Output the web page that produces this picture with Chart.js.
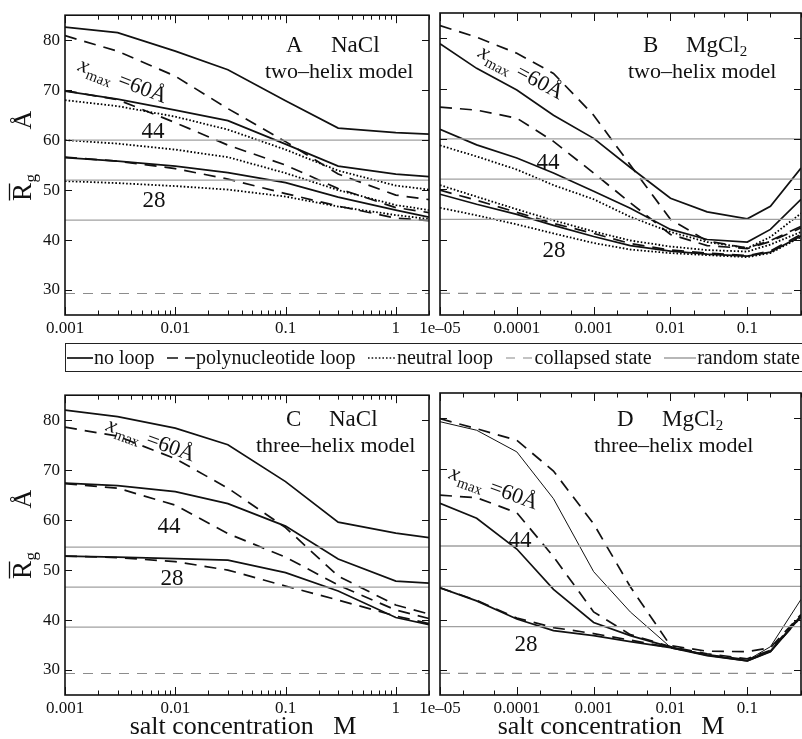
<!DOCTYPE html>
<html>
<head>
<meta charset="utf-8">
<script src="https://cdn.jsdelivr.net/npm/chart.js@4.4.0/dist/chart.umd.min.js"></script>
<style>
  html, body { margin: 0; padding: 0; background: #fff; }
  body { width: 802px; height: 739px; position: relative; overflow: hidden;
         font-family: "Liberation Serif", "DejaVu Serif", serif; color: #111; }
  canvas { position: absolute; }
  #legend { position: absolute; left: 65px; top: 343px; width: 760px; height: 27px;
            border: 1.5px solid #222; font-size: 20px; white-space: nowrap; }
  #legend .row { position: absolute; left: 1px; top: 0; width: 733px; height: 27px;
                 display: flex; align-items: center; justify-content: space-between; }
  #legend .item { display: flex; align-items: center; }
  #legend svg { margin-right: 1px; }
</style>
</head>
<body>
<canvas id="panelA" width="432" height="345" style="left:0;top:0"></canvas>
<canvas id="panelB" width="402" height="345" style="left:400px;top:0"></canvas>
<canvas id="panelC" width="432" height="359" style="left:0;top:380px"></canvas>
<canvas id="panelD" width="402" height="359" style="left:400px;top:380px"></canvas>

<div id="legend"><div class="row">
  <span class="item"><svg width="26" height="10"><line x1="0" y1="5" x2="26" y2="5" stroke="#111" stroke-width="1.7"/></svg>no loop</span>
  <span class="item"><svg width="28" height="10"><line x1="0" y1="5" x2="28" y2="5" stroke="#111" stroke-width="1.7" stroke-dasharray="11 7"/></svg>polynucleotide loop</span>
  <span class="item"><svg width="28" height="10"><line x1="0" y1="5" x2="28" y2="5" stroke="#111" stroke-width="1.7" stroke-dasharray="1.6 2"/></svg>neutral loop</span>
  <span class="item"><svg width="28" height="10"><line x1="0" y1="5" x2="28" y2="5" stroke="#888" stroke-width="1.1" stroke-dasharray="9 8"/></svg>collapsed state</span>
  <span class="item"><svg width="32" height="10"><line x1="0" y1="5" x2="32" y2="5" stroke="#999" stroke-width="1.4"/></svg>random state</span>
</div></div>

<script>
// salt concentrations (M) at which Rg was computed
const saltNaCl = [0.001, 0.003, 0.01, 0.03, 0.1, 0.3, 1, 2];
const saltMgCl2 = [1e-5, 3e-5, 1e-4, 3e-4, 1e-3, 3e-3, 0.01, 0.03, 0.1, 0.2, 0.5];

// A: NaCl, two-helix model
const aNoLoop60 = [82.6, 81.5, 77.8, 74.1, 67.9, 62.4, 61.5, 61.2];
const aPolyLoop60 = [80.9, 77.8, 72.8, 66.3, 59.7, 53.2, 49.0, 48.1];
const aNeutral60 = [68.0, 66.8, 64.7, 62.1, 58.1, 53.9, 50.9, 50.1];
const aNoLoop44 = [69.8, 68.2, 66.0, 63.9, 59.2, 54.8, 53.2, 52.7];
const aPolyLoop44 = [69.9, 68.1, 63.5, 59.0, 55.0, 50.3, 46.5, 45.5];
const aNeutral44 = [60.0, 59.3, 58.1, 56.6, 53.4, 50.0, 47.0, 46.0];
const aNoLoop28 = [56.5, 55.8, 54.8, 53.5, 51.5, 48.6, 46.0, 44.6];
const aPolyLoop28 = [56.6, 55.8, 54.3, 52.2, 49.3, 46.8, 44.4, 43.9];
const aNeutral28 = [51.8, 51.4, 50.8, 50.1, 48.7, 46.7, 45.0, 44.2];

// B: MgCl2, two-helix model
const bNoLoop60 = [78.9, 74.0, 69.7, 64.7, 60.1, 54.3, 48.2, 45.5, 44.1, 46.6, 54.2];
const bPolyLoop60 = [82.5, 80.2, 77.0, 73.0, 64.7, 54.8, 44.0, 39.7, 38.3, 39.8, 42.6];
const bNeutral60 = [58.7, 56.5, 53.9, 50.8, 48.0, 44.5, 41.5, 39.5, 38.3, 40.5, 45.2];
const bNoLoop44 = [61.9, 58.8, 56.2, 53.2, 49.6, 46.2, 42.0, 40.0, 39.5, 42.0, 48.0];
const bPolyLoop44 = [66.3, 65.7, 64.1, 59.5, 53.2, 47.3, 41.0, 38.8, 38.2, 39.6, 42.3];
const bNeutral44 = [50.8, 48.5, 46.0, 43.8, 41.6, 39.8, 38.6, 37.9, 37.6, 39.0, 41.5];
const bNoLoop28 = [49.0, 47.0, 45.0, 42.8, 40.6, 38.8, 37.7, 37.1, 36.7, 37.5, 40.7];
const bPolyLoop28 = [49.8, 47.8, 45.4, 43.2, 41.2, 39.2, 37.9, 37.3, 36.8, 37.7, 41.0];
const bNeutral28 = [46.3, 44.8, 43.0, 41.2, 39.3, 38.0, 37.3, 36.9, 36.5, 37.3, 40.5];

// C: NaCl, three-helix model
const cNoLoop60 = [82.0, 80.7, 78.4, 75.1, 67.7, 59.6, 57.4, 56.5];
const cPolyLoop60 = [78.6, 76.8, 72.3, 66.4, 58.5, 48.8, 43.0, 41.2];
const cNoLoop44 = [67.4, 66.9, 65.7, 63.3, 58.8, 52.2, 47.8, 47.4];
const cPolyLoop44 = [67.3, 66.4, 63.0, 57.3, 52.6, 47.0, 42.0, 40.3];
const cNoLoop28 = [52.8, 52.6, 52.3, 52.0, 49.5, 45.8, 40.5, 39.1];
const cPolyLoop28 = [52.8, 52.5, 51.7, 50.0, 46.8, 44.0, 40.8, 39.3];

// D: MgCl2, three-helix model
const dNoLoop60 = [79.3, 77.6, 73.3, 64.0, 49.5, 41.5, 34.5, 33.0, 31.9, 34.6, 44.0];
const dPolyLoop60 = [79.9, 77.9, 75.6, 69.5, 59.0, 46.5, 34.8, 33.7, 33.6, 34.4, 41.0];
const dNoLoop44 = [63.1, 60.1, 54.0, 46.0, 39.4, 36.8, 34.5, 32.9, 31.8, 33.7, 40.8];
const dPolyLoop44 = [64.7, 64.2, 61.2, 52.5, 41.5, 37.0, 34.6, 33.2, 32.2, 33.9, 40.9];
const dNoLoop28 = [46.3, 43.7, 40.1, 37.8, 36.8, 35.6, 34.4, 32.8, 31.8, 33.6, 40.6];
const dPolyLoop28 = [46.3, 43.8, 40.3, 38.4, 37.2, 35.9, 34.4, 33.0, 32.0, 33.7, 40.5];

// reference levels
const randomTwoHelix = [60, 52, 44];
const randomThreeHelix = [54.6, 46.6, 38.6];
const collapsedRg = 29.3;

// tick labels
const rgTicks = [30, 40, 50, 60, 70, 80];
const naclTicks = [0.001, 0.01, 0.1, 1];
const naclTickLabels = ['0.001', '0.01', '0.1', '1'];
const mgTicks = [1e-5, 1e-4, 1e-3, 1e-2, 0.1];
const mgTickLabels = ['1e\u201305', '0.0001', '0.001', '0.01', '0.1'];

const FONT = '"Liberation Serif", "DejaVu Serif", serif';

const solid = { borderColor: '#111', borderWidth: 1.7, borderDash: [] };
const thin = { borderColor: '#111', borderWidth: 1.0, borderDash: [] };
const dashed = { borderColor: '#111', borderWidth: 1.7, borderDash: [12, 8] };
const dotted = { borderColor: '#000', borderWidth: 1.8, borderDash: [1.6, 2.0] };

function pts(xs, ys) {
  return xs.map((x, i) => ({ x: x, y: ys[i] }));
}

function refLines(xmin, xmax, levels) {
  const sets = levels.map(v => ({
    data: [{ x: xmin, y: v }, { x: xmax, y: v }],
    borderColor: '#a0a0a0', borderWidth: 1.3
  }));
  sets.push({
    data: [{ x: xmin, y: collapsedRg }, { x: xmax, y: collapsedRg }],
    borderColor: '#8c8c8c', borderWidth: 1.1, borderDash: [10, 8]
  });
  return sets;
}

// draws a run of text pieces with their own fonts and baseline shifts
function drawRuns(ctx, runs, x, y) {
  let cx = x;
  runs.forEach(r => {
    ctx.font = r.font;
    ctx.fillText(r.t, cx, y + (r.dy || 0));
    cx += ctx.measureText(r.t).width + (r.gap || 0);
  });
}

// frame, inward ticks on all sides, and the text inside each panel
const panelFrame = {
  id: 'panelFrame',
  afterDraw(chart, args, o) {
    const { ctx, chartArea: a, scales: { x, y } } = chart;
    const [ox, oy] = o.origin;
    ctx.save();
    ctx.strokeStyle = '#111';
    ctx.lineWidth = 1;
    ctx.beginPath();
    const xmin = x.min, xmax = x.max;
    const d0 = Math.floor(Math.log10(xmin)), d1 = Math.ceil(Math.log10(xmax));
    for (let d = d0; d <= d1; d++) {
      for (let m = 1; m < 10; m++) {
        const v = m * Math.pow(10, d);
        if (v < xmin * 0.999 || v > xmax * 1.001) continue;
        let len;
        if (m === 1) len = 8;
        else if (o.minor.includes(m)) len = 4.5;
        else continue;
        const px = Math.round(x.getPixelForValue(v)) + 0.5;
        ctx.moveTo(px, a.bottom); ctx.lineTo(px, a.bottom - len);
        ctx.moveTo(px, a.top); ctx.lineTo(px, a.top + len);
      }
    }
    rgTicks.forEach(v => {
      const py = Math.round(y.getPixelForValue(v)) + 0.5;
      ctx.moveTo(a.left, py); ctx.lineTo(a.left + 7, py);
      ctx.moveTo(a.right, py); ctx.lineTo(a.right - 7, py);
    });
    ctx.stroke();
    ctx.lineWidth = 1.6;
    ctx.strokeRect(a.left, a.top, a.right - a.left, a.bottom - a.top);

    ctx.fillStyle = '#111';
    ctx.textBaseline = 'alphabetic';
    ctx.textAlign = 'left';
    o.texts.forEach(t => {
      if (t.center) {
        const w = t.runs.reduce((s, r) => { ctx.font = r.font; return s + ctx.measureText(r.t).width; }, 0);
        drawRuns(ctx, t.runs, t.x - ox - w / 2, t.y - oy);
      } else if (t.angle) {
        ctx.save();
        ctx.translate(t.x - ox, t.y - oy);
        ctx.rotate(t.angle * Math.PI / 180);
        drawRuns(ctx, t.runs, 0, 0);
        ctx.restore();
      } else {
        drawRuns(ctx, t.runs, t.x - ox, t.y - oy);
      }
    });

    // vertical axis title: R-bar with subscript g, then the unit
    if (o.yTitle) {
      const yt = o.yTitle;
      ctx.save();
      ctx.translate(yt.x - ox, yt.y - oy);
      ctx.rotate(-Math.PI / 2);
      ctx.font = '27px ' + FONT;
      const rw = ctx.measureText('R').width;
      ctx.fillText('R', 0, 0);
      ctx.lineWidth = 1.3;
      ctx.beginPath();
      ctx.moveTo(0.5, -21.5); ctx.lineTo(rw - 0.5, -21.5);
      ctx.stroke();
      ctx.font = '17px ' + FONT;
      ctx.fillText('g', rw + 0.5, 5);
      ctx.font = '26px ' + FONT;
      const aw = ctx.measureText('\u00C5').width;
      ctx.fillText('\u00C5', yt.unitCenter - aw / 2, 0);
      ctx.restore();
    }
    ctx.restore();
  }
};

const f = (size, style) => (style ? style + ' ' : '') + size + 'px ' + FONT;

function xmaxLabel(x, y, angle) {
  return { x: x, y: y, angle: angle, runs: [
    { t: 'x', font: f(22, 'italic'), gap: 0.5 },
    { t: 'max', font: f(15), dy: 5, gap: 1 },
    { t: ' =60\u00C5', font: f(22) }
  ] };
}

function makePanel(id, cfg) {
  const datasets = refLines(cfg.xmin, cfg.xmax, cfg.random).concat(
    cfg.series.map(s => Object.assign({ data: pts(cfg.xs, s.values) }, s.style))
  );
  datasets.forEach(d => { d.pointRadius = 0; d.fill = false; d.tension = 0; });

  return new Chart(document.getElementById(id), {
    type: 'line',
    data: { datasets: datasets },
    options: {
      responsive: false,
      animation: false,
      devicePixelRatio: 1,
      layout: { padding: { left: 0, top: 13, right: cfg.padRight, bottom: 0 } },
      plugins: {
        legend: { display: false },
        tooltip: { enabled: false },
        panelFrame: cfg.frame
      },
      scales: {
        x: {
          type: 'logarithmic',
          min: cfg.xmin,
          max: cfg.xmax,
          grid: { display: false, drawTicks: false },
          border: { display: false },
          afterBuildTicks: s => { s.ticks = cfg.ticks.map(v => ({ value: v })); },
          afterFit: s => { s.height = cfg.bottomSpace; },
          ticks: {
            autoSkip: false, maxRotation: 0, padding: 3, color: '#111',
            font: { family: FONT, size: 17 },
            callback: (v, i) => cfg.tickLabels[i]
          }
        },
        y: {
          min: 25,
          max: 85,
          grid: { display: false, drawTicks: false },
          border: { display: false },
          afterBuildTicks: s => { s.ticks = rgTicks.map(v => ({ value: v })); },
          afterFit: s => { s.width = cfg.leftSpace; },
          ticks: {
            display: cfg.yLabels, padding: 5, color: '#111',
            font: { family: FONT, size: 17 }
          }
        }
      }
    },
    plugins: [panelFrame]
  });
}

// A
makePanel('panelA', {
  xs: saltNaCl, xmin: 0.001, xmax: 2, ticks: naclTicks, tickLabels: naclTickLabels,
  random: randomTwoHelix, yLabels: true, leftSpace: 65, padRight: 3, bottomSpace: 30,
  series: [
    { values: aNoLoop60, style: solid }, { values: aPolyLoop60, style: dashed }, { values: aNeutral60, style: dotted },
    { values: aNoLoop44, style: solid }, { values: aPolyLoop44, style: dashed }, { values: aNeutral44, style: dotted },
    { values: aNoLoop28, style: solid }, { values: aPolyLoop28, style: dashed }, { values: aNeutral28, style: dotted }
  ],
  frame: {
    origin: [0, 0], minor: [2, 3, 4, 5, 6, 7, 8, 9],
    yTitle: { x: 31, y: 201, unitCenter: 81 },
    texts: [
      { x: 286, y: 52, runs: [{ t: 'A', font: f(23) }] },
      { x: 331, y: 52, runs: [{ t: 'NaCl', font: f(23) }] },
      { x: 265, y: 78, runs: [{ t: 'two\u2013helix model', font: f(22) }] },
      xmaxLabel(77, 70, 21),
      { center: true, x: 153, y: 138, runs: [{ t: '44', font: f(23) }] },
      { center: true, x: 154, y: 207, runs: [{ t: '28', font: f(23) }] }
    ]
  }
});

// B
makePanel('panelB', {
  xs: saltMgCl2, xmin: 1e-5, xmax: 0.5, ticks: mgTicks, tickLabels: mgTickLabels,
  random: randomTwoHelix, yLabels: false, leftSpace: 40, padRight: 1, bottomSpace: 30,
  series: [
    { values: bNoLoop60, style: solid }, { values: bPolyLoop60, style: dashed }, { values: bNeutral60, style: dotted },
    { values: bNoLoop44, style: solid }, { values: bPolyLoop44, style: dashed }, { values: bNeutral44, style: dotted },
    { values: bNoLoop28, style: solid }, { values: bPolyLoop28, style: dashed }, { values: bNeutral28, style: dotted }
  ],
  frame: {
    origin: [400, 0], minor: [2, 5],
    texts: [
      { x: 643, y: 52, runs: [{ t: 'B', font: f(23) }] },
      { x: 686, y: 52, runs: [{ t: 'MgCl', font: f(23) }, { t: '2', font: f(15), dy: 4 }] },
      { x: 628, y: 78, runs: [{ t: 'two\u2013helix model', font: f(22) }] },
      xmaxLabel(477, 56, 28),
      { center: true, x: 548, y: 169, runs: [{ t: '44', font: f(23) }] },
      { center: true, x: 554, y: 257, runs: [{ t: '28', font: f(23) }] }
    ]
  }
});

// C
makePanel('panelC', {
  xs: saltNaCl, xmin: 0.001, xmax: 2, ticks: naclTicks, tickLabels: naclTickLabels,
  random: randomThreeHelix, yLabels: true, leftSpace: 65, padRight: 3, bottomSpace: 44,
  series: [
    { values: cNoLoop60, style: solid }, { values: cPolyLoop60, style: dashed },
    { values: cNoLoop44, style: solid }, { values: cPolyLoop44, style: dashed },
    { values: cNoLoop28, style: solid }, { values: cPolyLoop28, style: dashed }
  ],
  frame: {
    origin: [0, 380], minor: [2, 3, 4, 5, 6, 7, 8, 9],
    yTitle: { x: 31, y: 579, unitCenter: 80 },
    texts: [
      { x: 286, y: 426, runs: [{ t: 'C', font: f(23) }] },
      { x: 329, y: 426, runs: [{ t: 'NaCl', font: f(23) }] },
      { x: 256, y: 452, runs: [{ t: 'three\u2013helix model', font: f(22) }] },
      xmaxLabel(105, 430, 20),
      { center: true, x: 169, y: 533, runs: [{ t: '44', font: f(23) }] },
      { center: true, x: 172, y: 585, runs: [{ t: '28', font: f(23) }] },
      { center: true, x: 243, y: 734, runs: [{ t: 'salt concentration   M', font: f(26) }] }
    ]
  }
});

// D
makePanel('panelD', {
  xs: saltMgCl2, xmin: 1e-5, xmax: 0.5, ticks: mgTicks, tickLabels: mgTickLabels,
  random: randomThreeHelix, yLabels: false, leftSpace: 40, padRight: 1, bottomSpace: 44,
  series: [
    { values: dNoLoop60, style: thin }, { values: dPolyLoop60, style: dashed },
    { values: dNoLoop44, style: solid }, { values: dPolyLoop44, style: dashed },
    { values: dNoLoop28, style: solid }, { values: dPolyLoop28, style: dashed }
  ],
  frame: {
    origin: [400, 380], minor: [2, 5],
    texts: [
      { x: 617, y: 426, runs: [{ t: 'D', font: f(23) }] },
      { x: 662, y: 426, runs: [{ t: 'MgCl', font: f(23) }, { t: '2', font: f(15), dy: 4 }] },
      { x: 594, y: 452, runs: [{ t: 'three\u2013helix model', font: f(22) }] },
      xmaxLabel(448, 478, 20),
      { center: true, x: 520, y: 547, runs: [{ t: '44', font: f(23) }] },
      { center: true, x: 526, y: 651, runs: [{ t: '28', font: f(23) }] },
      { center: true, x: 611, y: 734, runs: [{ t: 'salt concentration   M', font: f(26) }] }
    ]
  }
});
</script>
</body>
</html>
